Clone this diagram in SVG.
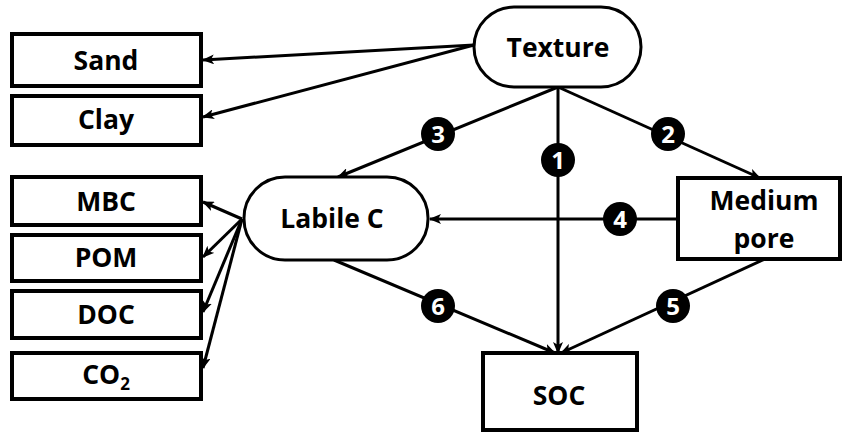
<svg xmlns="http://www.w3.org/2000/svg" width="843" height="434" viewBox="0 0 843 434">
<style>
.box{fill:#fff;stroke:#000;stroke-width:4}
.rbox{fill:#fff;stroke:#000;stroke-width:3}
.lbl{font-family:"Open Sans","Liberation Sans",sans-serif;font-weight:bold;font-size:26.5px;fill:#000;text-anchor:middle}
.con line{stroke:#000;stroke-width:3;fill:none}
.badge circle{fill:#000}
.badge text{font-family:"Open Sans","Liberation Sans",sans-serif;font-weight:bold;font-size:24px;fill:#fff;text-anchor:middle}
</style>
<defs>
<marker id="ah" viewBox="0 0 12 10" refX="11" refY="5" markerWidth="12" markerHeight="10" markerUnits="userSpaceOnUse" orient="auto">
<path d="M0,0 L12,5 L0,10 L3,5 Z" fill="#000"/>
</marker>
</defs>
<rect width="843" height="434" fill="#fff"/>
<g class="con">
<line x1="474" y1="45" x2="203" y2="60" marker-end="url(#ah)"/>
<line x1="474" y1="45" x2="203" y2="117" marker-end="url(#ah)"/>
<line x1="242" y1="219" x2="203" y2="202" marker-end="url(#ah)"/>
<line x1="242" y1="219" x2="203" y2="257" marker-end="url(#ah)"/>
<line x1="242" y1="219" x2="203" y2="312" marker-end="url(#ah)"/>
<line x1="242" y1="219" x2="203" y2="368" marker-end="url(#ah)"/>
<line x1="558" y1="87" x2="338" y2="177" marker-end="url(#ah)"/>
<line x1="558" y1="87" x2="558" y2="353" marker-end="url(#ah)"/>
<line x1="558" y1="87" x2="760" y2="178" marker-end="url(#ah)"/>
<line x1="678" y1="219" x2="430" y2="219" marker-end="url(#ah)"/>
<line x1="765" y1="259" x2="561" y2="353" marker-end="url(#ah)"/>
<line x1="334" y1="260" x2="555" y2="353" marker-end="url(#ah)"/>
</g>
<g id="sand"><rect class="box" x="12" y="34" width="189" height="52"/><text class="lbl" x="106" y="70">Sand</text></g>
<g id="clay"><rect class="box" x="12" y="96" width="189" height="49"/><text class="lbl" x="106" y="129">Clay</text></g>
<g id="mbc"><rect class="box" x="12" y="177" width="189" height="48"/><text class="lbl" x="106" y="211">MBC</text></g>
<g id="pom"><rect class="box" x="12" y="235" width="189" height="46"/><text class="lbl" x="106" y="267">POM</text></g>
<g id="doc"><rect class="box" x="12" y="291" width="189" height="47"/><text class="lbl" x="106" y="324">DOC</text></g>
<g id="co2"><rect class="box" x="12" y="353" width="189" height="46"/><text class="lbl" x="106" y="384">CO<tspan font-size="17" dy="6">2</tspan></text></g>
<g id="texture"><rect class="rbox" x="474" y="7" width="167" height="80" rx="40"/><text class="lbl" x="558" y="57">Texture</text></g>
<g id="labile"><rect class="rbox" x="244" y="177" width="184" height="83" rx="41"/><text class="lbl" x="332" y="228">Labile C</text></g>
<g id="medium"><rect class="box" x="678" y="178" width="162" height="81"/><text class="lbl" x="764" y="210">Medium</text><text class="lbl" x="764" y="248">pore</text></g>
<g id="soc"><rect class="box" x="483" y="353" width="154" height="77"/><text class="lbl" x="559" y="405">SOC</text></g>
<g id="badges">
<g class="badge" id="b1"><circle cx="558" cy="160" r="17"/><text x="558" y="168.5">1</text></g>
<g class="badge" id="b2"><circle cx="668" cy="134" r="17"/><text x="668" y="142.5">2</text></g>
<g class="badge" id="b3"><circle cx="438" cy="134" r="17"/><text x="438" y="142.5">3</text></g>
<g class="badge" id="b4"><circle cx="620" cy="219" r="17"/><text x="620" y="227.5">4</text></g>
<g class="badge" id="b5"><circle cx="673" cy="306" r="17"/><text x="673" y="314.5">5</text></g>
<g class="badge" id="b6"><circle cx="438" cy="306" r="17"/><text x="438" y="314.5">6</text></g>
</g>
</svg>
